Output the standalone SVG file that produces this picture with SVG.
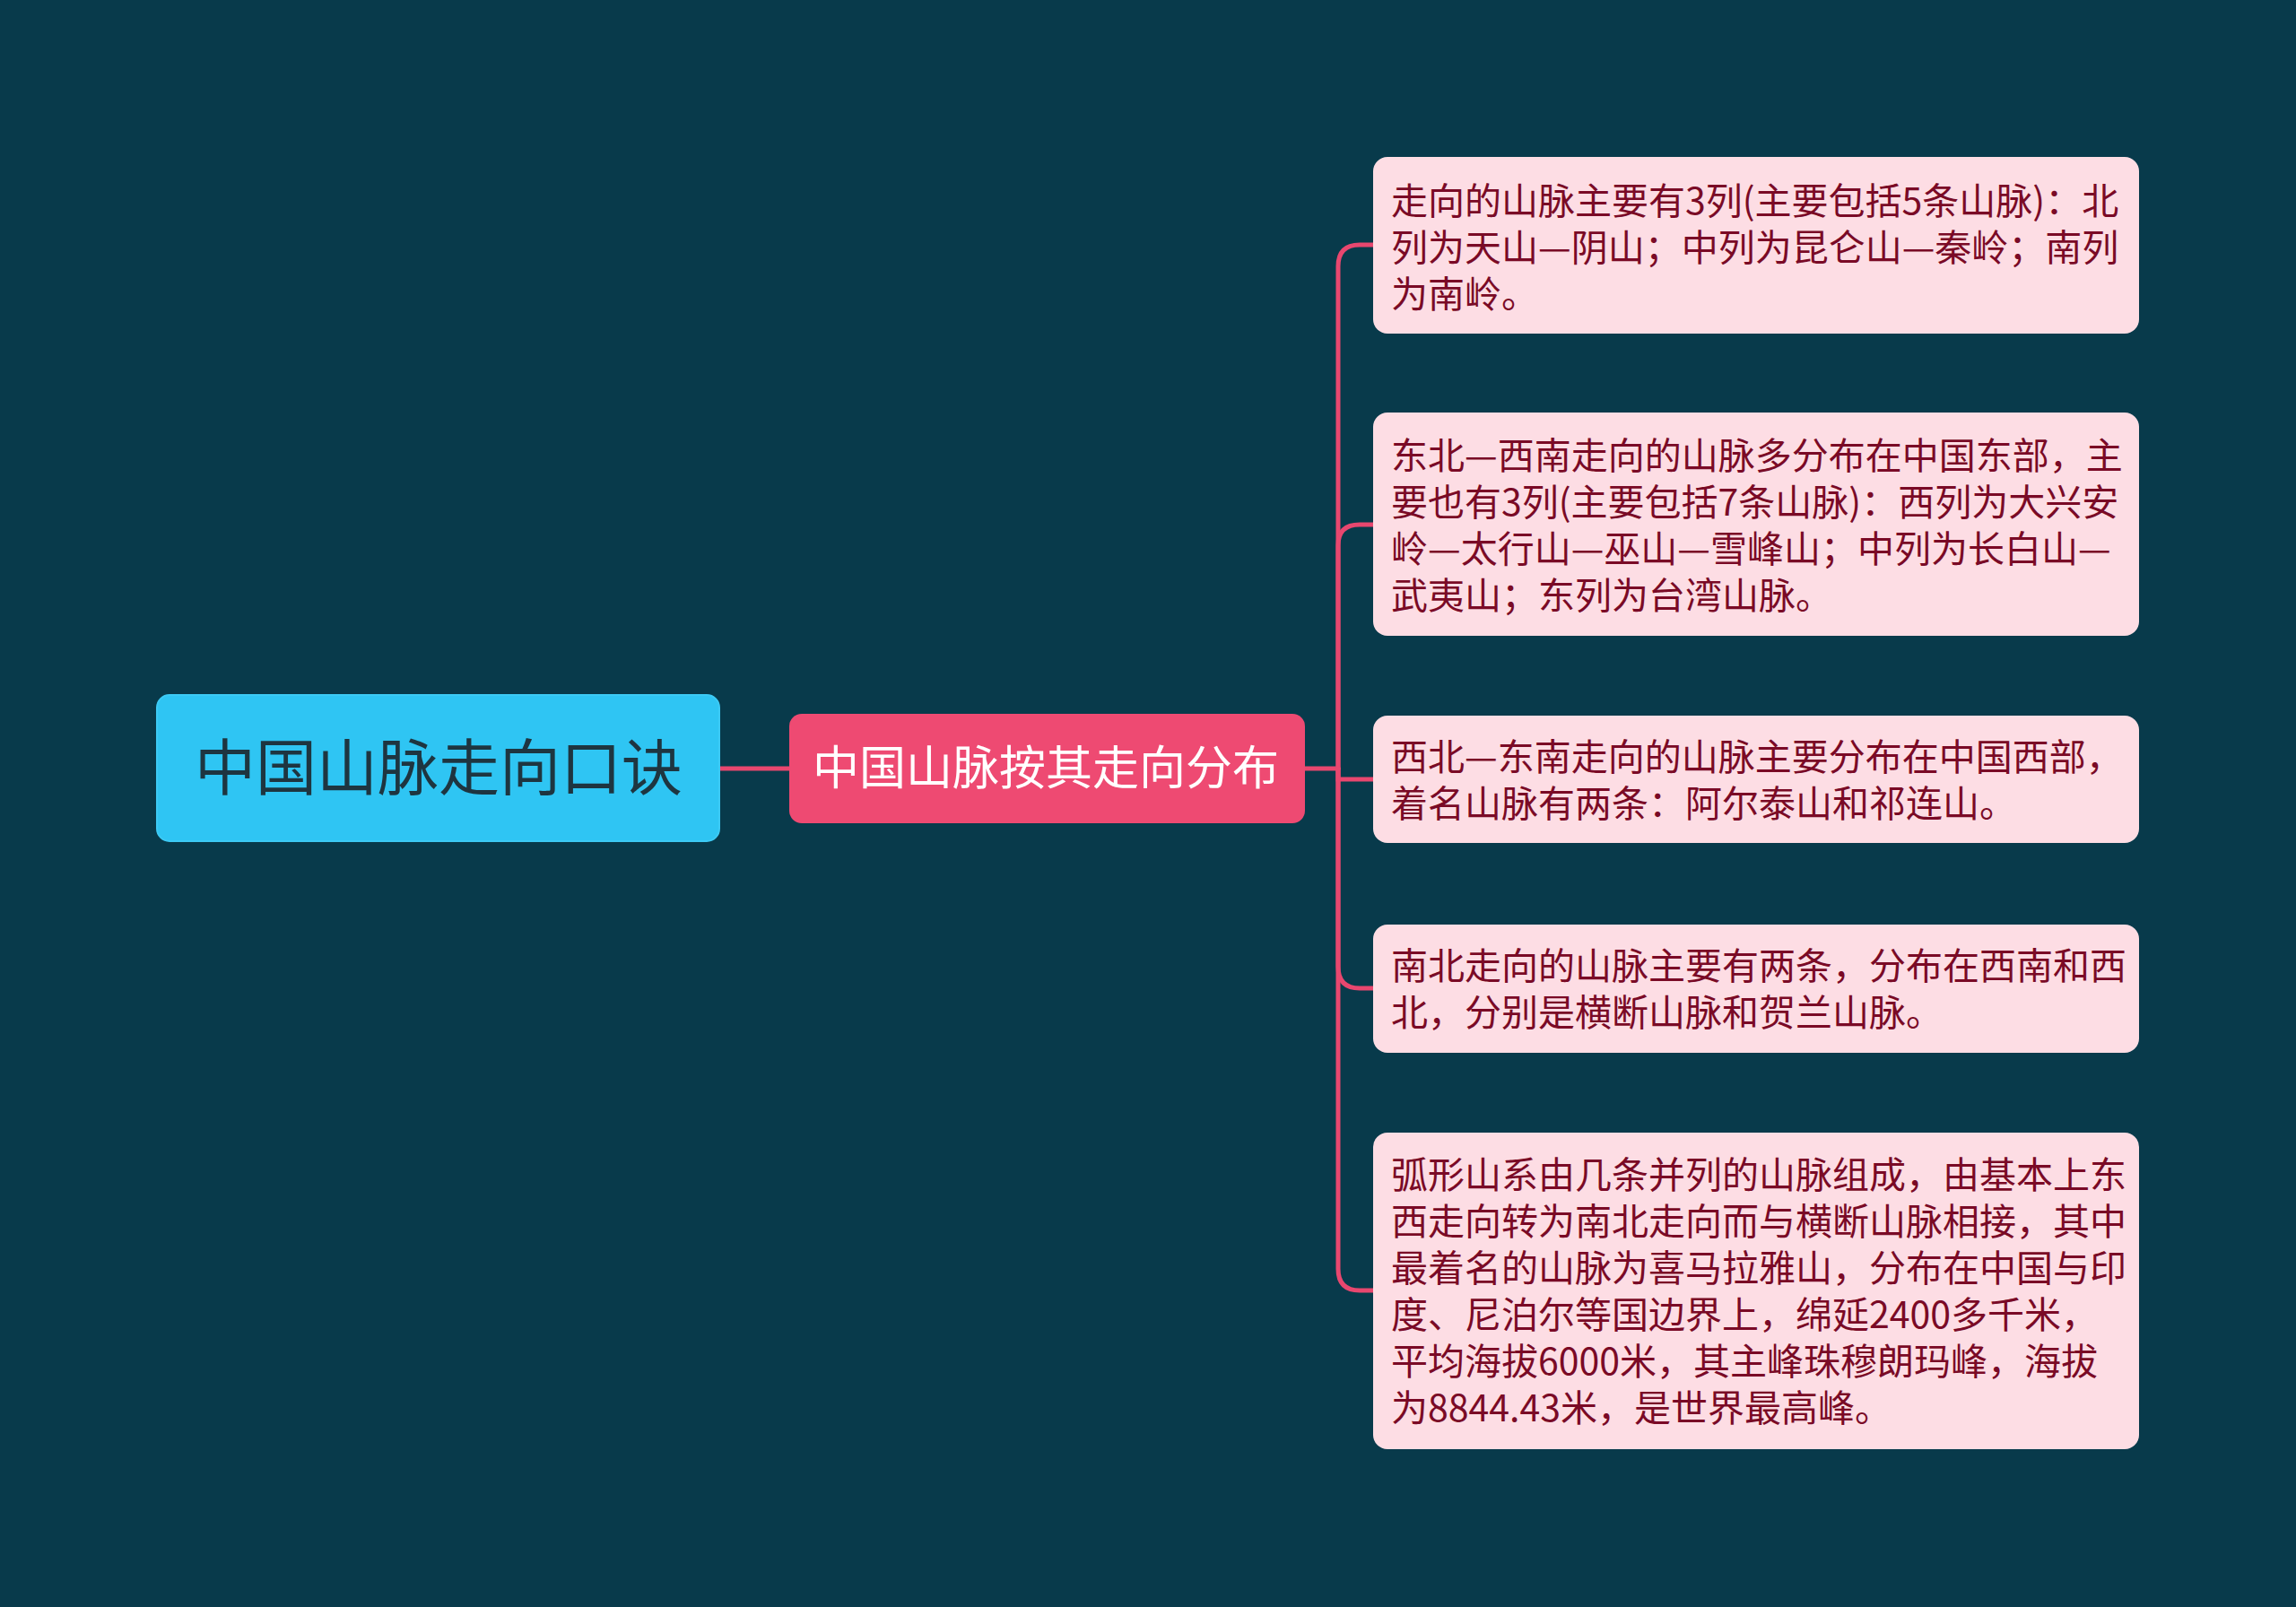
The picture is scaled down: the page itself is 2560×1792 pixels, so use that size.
<svg xmlns="http://www.w3.org/2000/svg" width="2560" height="1792" viewBox="0 0 2560 1792">
<defs>
<style>
.bg{fill:#083a4b}
.conn{fill:none;stroke:#e8476f;stroke-width:5;stroke-linecap:round}
.root rect{fill:#2fc5f3;stroke:#3ccaf5;stroke-width:2}
.root text{fill:#1e3540;font-size:68px;text-anchor:middle}
.mid rect{fill:#ee4a72}
.mid text{fill:#ffffff;font-size:52px;text-anchor:middle}
.leaf rect{fill:#fddde4}
.leaf text{fill:#7a0a26;font-size:41px}
text{font-family:"Noto Sans CJK SC","Noto Sans",sans-serif}
</style>
</defs>
<rect class="bg" x="0" y="0" width="2560" height="1792"/>
<g id="connectors">
<path class="conn" d="M802,857 L880,857"/>
<path class="conn" d="M1455,857 L1492,857"/>
<path class="conn" d="M1492,857 L1492,297 Q1492,273 1516,273 L1531,273"/>
<path class="conn" d="M1492,857 L1492,608 Q1492,585 1516,585 L1531,585"/>
<path class="conn" d="M1492,857 L1492,869 L1531,869"/>
<path class="conn" d="M1492,857 L1492,1078 Q1492,1102 1516,1102 L1531,1102"/>
<path class="conn" d="M1492,857 L1492,1415 Q1492,1439 1516,1439 L1531,1439"/>
</g>
<g id="root" class="root">
<rect x="175" y="775" width="627" height="163" rx="14"/>
<text x="489" y="881">中国山脉走向口诀</text>
</g>
<g id="mid" class="mid">
<rect x="880" y="796" width="575" height="122" rx="14"/>
<text x="1166" y="875">中国山脉按其走向分布</text>
</g>
<g id="leaf1" class="leaf">
<rect x="1531" y="175" width="854" height="197" rx="16"/>
<text x="1551" y="239">走向的山脉主要有3列(主要包括5条山脉)：北</text>
<text x="1551" y="291">列为天山—阴山；中列为昆仑山—秦岭；南列</text>
<text x="1551" y="343">为南岭。</text>
</g>
<g id="leaf2" class="leaf">
<rect x="1531" y="460" width="854" height="249" rx="16"/>
<text x="1551" y="523">东北—西南走向的山脉多分布在中国东部，主</text>
<text x="1551" y="575">要也有3列(主要包括7条山脉)：西列为大兴安</text>
<text x="1551" y="627">岭—太行山—巫山—雪峰山；中列为长白山—</text>
<text x="1551" y="679">武夷山；东列为台湾山脉。</text>
</g>
<g id="leaf3" class="leaf">
<rect x="1531" y="798" width="854" height="142" rx="16"/>
<text x="1551" y="859">西北—东南走向的山脉主要分布在中国西部，</text>
<text x="1551" y="911">着名山脉有两条：阿尔泰山和祁连山。</text>
</g>
<g id="leaf4" class="leaf">
<rect x="1531" y="1031" width="854" height="143" rx="16"/>
<text x="1551" y="1092">南北走向的山脉主要有两条，分布在西南和西</text>
<text x="1551" y="1144">北，分别是横断山脉和贺兰山脉。</text>
</g>
<g id="leaf5" class="leaf">
<rect x="1531" y="1263" width="854" height="353" rx="16"/>
<text x="1551" y="1325">弧形山系由几条并列的山脉组成，由基本上东</text>
<text x="1551" y="1377">西走向转为南北走向而与横断山脉相接，其中</text>
<text x="1551" y="1429">最着名的山脉为喜马拉雅山，分布在中国与印</text>
<text x="1551" y="1481">度、尼泊尔等国边界上，绵延2400多千米，</text>
<text x="1551" y="1533">平均海拔6000米，其主峰珠穆朗玛峰，海拔</text>
<text x="1551" y="1585">为8844.43米，是世界最高峰。</text>
</g>
</svg>
